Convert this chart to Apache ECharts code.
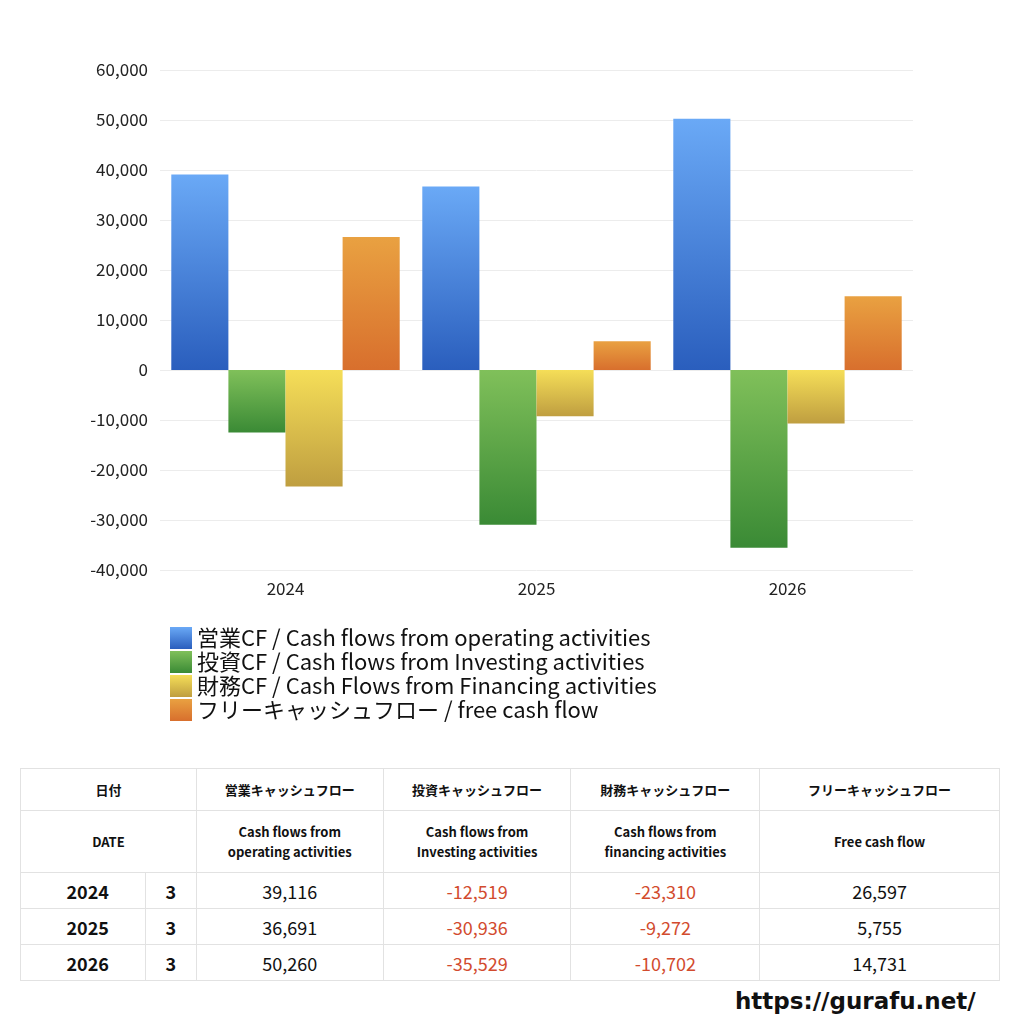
<!DOCTYPE html>
<html>
<head>
<meta charset="utf-8">
<script src="https://cdn.jsdelivr.net/npm/echarts@6/dist/echarts.min.js"></script>
<style>
body { margin: 0; background: #fff; font-family: "Noto Sans CJK JP", "Noto Sans", sans-serif; }
#chart { position: absolute; left: 0; top: 0; width: 1024px; height: 740px; }
#tbl { position: absolute; left: 20px; top: 768px; border-collapse: collapse; width: 980px; color: #111; }
#tbl td { border: 1px solid #e2e2e2; text-align: center; padding: 0; }
#tbl .h1 td { height: 41px; font-size: 13px; font-weight: bold; }
#tbl .h2 td { height: 61px; font-size: 13px; font-weight: bold; line-height: 20px; }
#tbl .d td { height: 35px; font-size: 18px; }
#tbl .d td.y { font-weight: bold; text-align: right; padding-right: 36px; }
#tbl .d td.m { font-weight: bold; }
.neg { color: #d24b2e; }
#url { position: absolute; left: 735px; top: 988px; font-size: 23px; font-weight: bold; font-family: "DejaVu Sans", sans-serif; color: #111; }
</style>
</head>
<body>
<div id="chart"></div>
<table id="tbl"></table>
<div id="url">https://gurafu.net/</div>
<script>
const years = ['2024', '2025', '2026'];
const months = ['3', '3', '3'];
const operating = [39116, 36691, 50260];
const investing = [-12519, -30936, -35529];
const financing = [-23310, -9272, -10702];
const freeCash = [26597, 5755, 14731];
const seriesNames = [
	'営業CF / Cash flows from operating activities',
	'投資CF / Cash flows from Investing activities',
	'財務CF / Cash Flows from Financing activities',
	'フリーキャッシュフロー / free cash flow'
];
const colorPairs = [
	['#6aa9f6', '#2a5ebd'],
	['#80c05a', '#3a8a35'],
	['#f5de58', '#bf9e40'],
	['#e9a141', '#d86f2d']
];

const grad = function ( c ) {
	return new echarts.graphic.LinearGradient( 0, 0, 0, 1, [ { offset: 0, color: c[0] }, { offset: 1, color: c[1] } ] );
};
const allData = [ operating, investing, financing, freeCash ];

const myChart = echarts.init( document.getElementById( 'chart' ) );
myChart.setOption( {
	animation: false,
	textStyle: { fontFamily: 'Noto Sans CJK JP' },
	grid: { left: 160, right: 111, top: 70, height: 500 },
	xAxis: {
		type: 'category',
		data: years,
		axisLine: { show: false },
		axisTick: { show: false },
		axisLabel: { fontSize: 17, color: '#222', margin: 10 }
	},
	yAxis: {
		type: 'value',
		min: -40000,
		max: 60000,
		interval: 10000,
		axisLabel: { fontSize: 17, color: '#222', margin: 12, formatter: v => v.toLocaleString( 'en-US' ) },
		splitLine: { lineStyle: { color: '#ececec' } }
	},
	legend: {
		orient: 'vertical',
		left: 165,
		top: 622,
		itemWidth: 22,
		itemHeight: 22,
		itemGap: 2,
		icon: 'rect',
		textStyle: { fontSize: 22, color: '#111' },
		data: seriesNames
	},
	series: seriesNames.map( ( name, i ) => ( {
		name,
		type: 'bar',
		data: allData[i],
		barGap: '0%',
		barCategoryGap: '9%',
		itemStyle: { color: grad( colorPairs[i] ) }
	} ) )
} );

// table
const fmt = v => v.toLocaleString( 'en-US' );
const cell = v => `<td${ v < 0 ? ' class="neg"' : '' }>${ fmt( v ) }</td>`;
let html = '<colgroup><col style="width:125px"><col style="width:51px"><col style="width:187px"><col style="width:188px"><col style="width:189px"><col style="width:240px"></colgroup>';
html += '<tr class="h1"><td colspan="2">日付</td><td>営業キャッシュフロー</td><td>投資キャッシュフロー</td><td>財務キャッシュフロー</td><td>フリーキャッシュフロー</td></tr>';
html += '<tr class="h2"><td colspan="2">DATE</td><td>Cash flows from<br>operating activities</td><td>Cash flows from<br>Investing activities</td><td>Cash flows from<br>financing activities</td><td>Free cash flow</td></tr>';
for ( let i = 0; i < years.length; i++ ) {
	html += `<tr class="d"><td class="y">${ years[i] }</td><td class="m">${ months[i] }</td>${ cell( operating[i] ) }${ cell( investing[i] ) }${ cell( financing[i] ) }${ cell( freeCash[i] ) }</tr>`;
}
document.getElementById( 'tbl' ).innerHTML = html;
</script>
</body>
</html>
